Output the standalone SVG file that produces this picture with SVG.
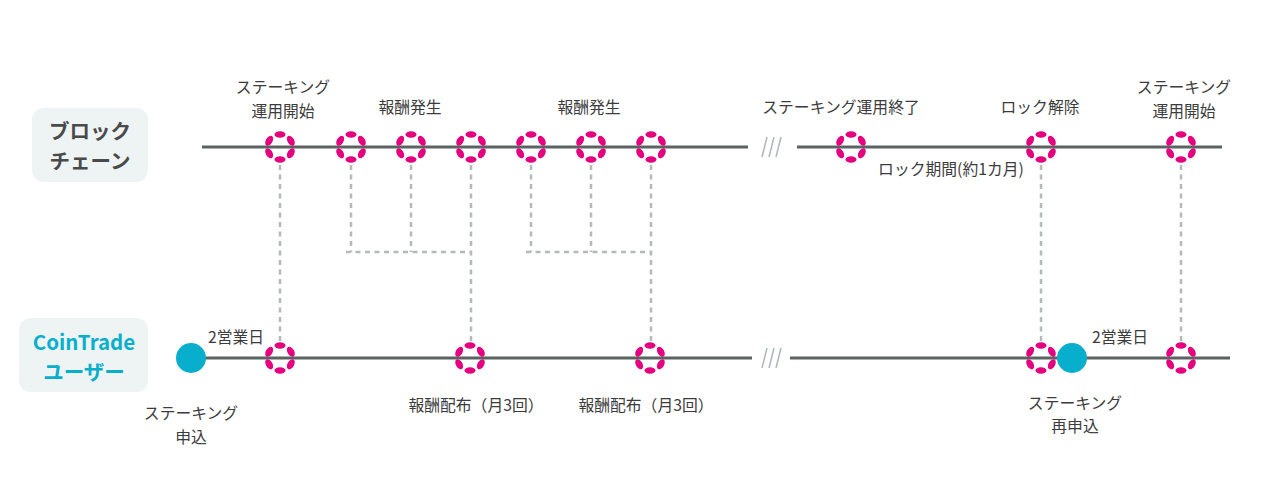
<svg xmlns="http://www.w3.org/2000/svg" width="1279" height="495" viewBox="0 0 1279 495">
<style>
.tl{stroke:#5b6361;stroke-width:3;fill:none}
.dash{stroke:#b4b9b9;stroke-width:2.5;stroke-dasharray:5 4.5;fill:none}
.sl{stroke:#aeb8b8;stroke-width:1.5}
.lb{font-family:"Noto Sans CJK JP","Noto Sans",sans-serif;font-size:15.8px;fill:#3c3c3c;text-anchor:middle}
.hd{font-family:"Noto Sans CJK JP","Noto Sans",sans-serif;font-size:20.5px;font-weight:bold;text-anchor:middle}
.box{fill:#eef3f3}
.blue{fill:#08afcc}
</style>
<defs>
<g id="pn" fill="#e5007f">
<ellipse cx="0" cy="-12.5" rx="5.5" ry="3.3"/>
<ellipse cx="0" cy="12.5" rx="5.5" ry="3.3"/>
<ellipse cx="0" cy="-12.5" rx="5.5" ry="3.3" transform="rotate(60)"/>
<ellipse cx="0" cy="-12.5" rx="5.5" ry="3.3" transform="rotate(120)"/>
<ellipse cx="0" cy="-12.5" rx="5.5" ry="3.3" transform="rotate(240)"/>
<ellipse cx="0" cy="-12.5" rx="5.5" ry="3.3" transform="rotate(300)"/>
</g>
</defs>
<rect width="1279" height="495" fill="#fff"/>
<g id="connectors">
<path class="tl" d="M202 147H748M797 147H1222"/>
<path class="tl" d="M205 358H752M790 358H1230"/>
<g class="sl"><path d="M762 157L767 137M769 157L774 137M776 157L781 137"/><path d="M762 368L767 348M769 368L774 348M776 368L781 348"/></g>
<path class="dash" d="M280 165V341M351 165V252M411 165V252M471 165V341M346 252H471M531 165V252M591 165V252M651 165V341M526 252H651M1041 165V341M1181 165V341"/>
</g>
<g id="label-blockchain"><rect class="box" x="32" y="108" width="116" height="74" rx="12"/><text class="hd" x="90" y="139" fill="#4a4a4a">ブロック</text><text class="hd" x="90" y="169" fill="#4a4a4a">チェーン</text></g>
<g id="label-user"><rect class="box" x="19" y="318" width="129" height="74" rx="12"/><text class="hd" x="84" y="350" fill="#08afcc">CoinTrade</text><text class="hd" x="84" y="380" fill="#08afcc">ユーザー</text></g>
<g id="bc-nodes">
<use href="#pn" x="280" y="147"/><use href="#pn" x="351" y="147"/><use href="#pn" x="411" y="147"/><use href="#pn" x="471" y="147"/><use href="#pn" x="531" y="147"/><use href="#pn" x="591" y="147"/><use href="#pn" x="651" y="147"/><use href="#pn" x="851" y="147"/><use href="#pn" x="1041" y="147"/><use href="#pn" x="1181" y="147"/>
</g>
<g id="user-nodes">
<circle class="blue" cx="191" cy="358" r="15"/>
<use href="#pn" x="280" y="358"/><use href="#pn" x="470" y="358"/><use href="#pn" x="650" y="358"/><use href="#pn" x="1041" y="358"/>
<circle class="blue" cx="1072" cy="358" r="15"/>
<use href="#pn" x="1181" y="358"/>
</g>
<g id="labels">
<text class="lb" x="283" y="93">ステーキング</text><text class="lb" x="283" y="117">運用開始</text>
<text class="lb" x="410" y="113">報酬発生</text>
<text class="lb" x="589" y="113">報酬発生</text>
<text class="lb" x="841" y="113">ステーキング運用終了</text>
<text class="lb" x="1040" y="113">ロック解除</text>
<text class="lb" x="1184" y="93">ステーキング</text><text class="lb" x="1184" y="117">運用開始</text>
<text class="lb" x="951" y="175">ロック期間(約1カ月)</text>
<text class="lb" x="236" y="343">2営業日</text>
<text class="lb" x="1120" y="343">2営業日</text>
<text class="lb" x="191" y="419">ステーキング</text><text class="lb" x="191" y="443">申込</text>
<text class="lb" x="476" y="411">報酬配布（月3回）</text>
<text class="lb" x="646" y="411">報酬配布（月3回）</text>
<text class="lb" x="1075" y="409">ステーキング</text><text class="lb" x="1075" y="432">再申込</text>
</g>
</svg>
